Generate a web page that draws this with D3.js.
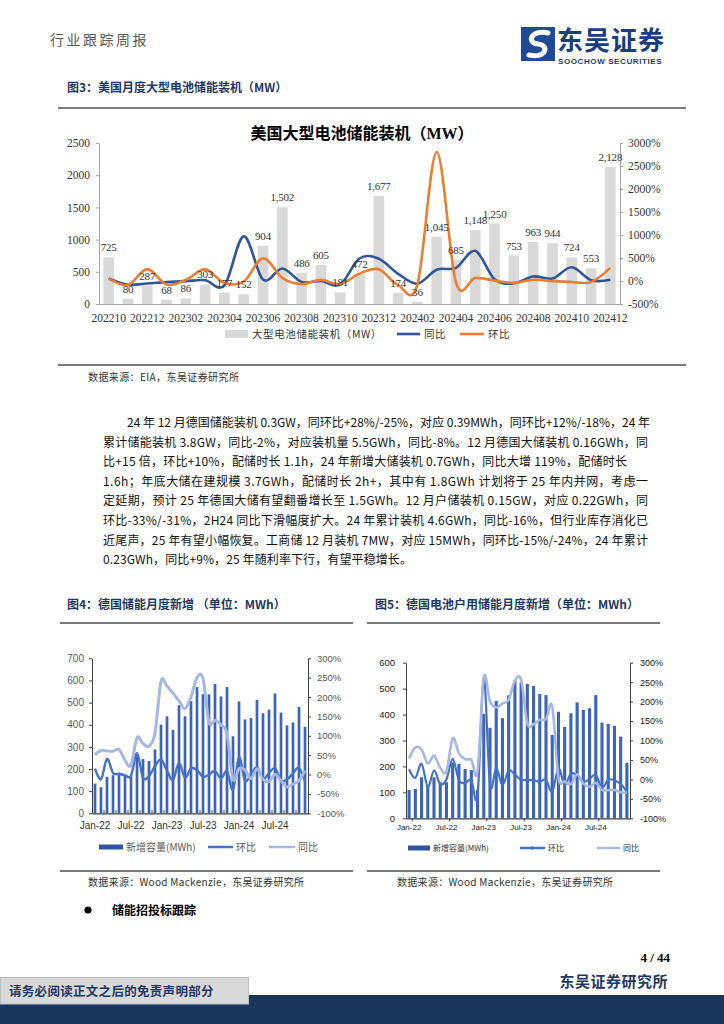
<!DOCTYPE html>
<html><head><meta charset="utf-8">
<script src="https://cdn.jsdelivr.net/npm/d3@7"></script>
<style>
html,body{margin:0;padding:0;background:#fff;}
svg{display:block;}
</style></head><body>
<svg id="page" width="724" height="1024"></svg>
<script>
// ===== DATA =====
// Fig 3: US monthly large-scale battery storage installations (MW)
const usMonths = ["202210","202211","202212","202301","202302","202303","202304","202305","202306","202307","202308","202309","202310","202311","202312","202401","202402","202403","202404","202405","202406","202407","202408","202409","202410","202411","202412"];
const usInstalled = [725,80,287,68,86,303,177,152,904,1502,486,605,181,472,1677,174,36,1045,685,1148,1250,753,963,944,724,553,2128];
const usYoY = [55,-80,-53,-25,-3,18,-95,970,30,271,-20,0,-75,490,484,156,-58,245,287,655,38,-50,98,56,300,17,27];
const usMoM = [55,-89,259,-76,26,252,-42,-14,495,66,-68,24,-70,161,255,-90,-79,2803,-34,68,9,-40,28,-2,-23,-24,285];
const usLeftTicks = [0,500,1000,1500,2000,2500];
const usRightTicks = [-500,0,500,1000,1500,2000,2500,3000];

// Fig 4 / Fig 5: Germany monthly additions (MWh)
const deMonths = ["Jan-22","Feb-22","Mar-22","Apr-22","May-22","Jun-22","Jul-22","Aug-22","Sep-22","Oct-22","Nov-22","Dec-22",
  "Jan-23","Feb-23","Mar-23","Apr-23","May-23","Jun-23","Jul-23","Aug-23","Sep-23","Oct-23","Nov-23","Dec-23",
  "Jan-24","Feb-24","Mar-24","Apr-24","May-24","Jun-24","Jul-24","Aug-24","Sep-24","Oct-24","Nov-24","Dec-24"];
const deInstalled = [134,118,165,172,176,172,166,266,245,236,288,400,438,376,488,438,507,570,538,537,584,528,570,348,505,424,430,512,452,468,541,455,397,410,480,391];
const deMoM = [15,-12,40,4,2,-2,-3,55,-8,-4,22,39,10,-14,30,-8,16,12,-6,0,9,-10,8,-39,45,-16,1,19,-12,4,16,-16,-13,3,17,-19];
const deYoY = [51,62,61,60,65,37,24,95,80,73,107,240,228,210,190,170,200,250,248,135,140,128,105,-12,15,12,-10,15,-12,-18,0,-16,-32,-24,-16,10];
const deLeftTicks = [0,100,200,300,400,500,600,700];

const huInstalled = [109,113,158,128,158,139,139,215,210,190,186,110,402,349,452,386,474,531,524,518,510,479,475,321,411,353,405,447,418,424,475,369,364,356,315,214];
const huMoM = [26,4,40,-19,23,-12,0,53,-2,-9,-2,-41,262,-13,30,-15,23,12,-1,-1,-2,-6,-1,-32,28,-14,15,10,-6,1,12,-22,-1,-2,-12,-32];
const huYoY = [54,82,77,41,61,30,20,106,67,52,50,20,262,200,185,195,205,254,256,144,142,153,155,188,5,-5,-12,13,-11,-19,-9,-27,-28,-27,-33,-34];
const huLeftTicks = [0,100,200,300,400,500,600];
const pctTicks = [-100,-50,0,50,100,150,200,250,300];

// ===== STYLE =====
const CJK = "'Noto Sans CJK SC','Noto Sans CJK JP',sans-serif";
const SERIF = "'Liberation Serif','DejaVu Serif',serif";
const SANS = "'Liberation Sans',Arial,sans-serif";
const NAVY = "#1f3864";

const page = d3.select("#page");
page.append("rect").attr("width",724).attr("height",1024).attr("fill","#fff");

function txt(parent, x, y, s, o = {}) {
  const t = parent.append("text").attr("x", x).attr("y", y).text(s)
    .attr("font-family", o.family || CJK).attr("font-size", o.size || 12)
    .attr("fill", o.fill || "#000");
  if (o.weight) t.attr("font-weight", o.weight);
  if (o.anchor) t.attr("text-anchor", o.anchor);
  if (o.ls) t.attr("letter-spacing", o.ls);
  if (o.len) t.attr("textLength", o.len).attr("lengthAdjust", "spacing");
  return t;
}
function hline(x1, x2, y, c = "#4d4d4d", w = 1.5) {
  page.append("line").attr("x1", x1).attr("x2", x2).attr("y1", y).attr("y2", y)
    .attr("stroke", c).attr("stroke-width", w);
}
function styleAxis(g, family, size, fill, stroke) {
  g.attr("font-family", family).attr("font-size", size);
  g.selectAll("text").attr("fill", fill);
  g.selectAll("line,path").attr("stroke", stroke);
}

// ===== HEADER =====
txt(page, 50, 45, "行业跟踪周报", {size: 14, fill: "#595959", ls: 2.5});
page.append("rect").attr("x", 521).attr("y", 27).attr("width", 34).attr("height", 34).attr("fill", "#1e4a96");
page.append("path").attr("d", "M548,33 C531,29 526,43 538,44 C550,45 546,59 529,55")
  .attr("fill", "none").attr("stroke", "#fff").attr("stroke-width", 5).attr("stroke-linecap", "round");
txt(page, 557, 50, "东吴证券", {size: 26, weight: "bold", fill: "#1a3d7c", ls: 1});
txt(page, 558, 64, "SOOCHOW SECURITIES", {size: 8, weight: "bold", fill: "#1a3d7c", family: SANS, ls: 0.6});

// ===== FIG 3 =====
txt(page, 67, 92, "图3：美国月度大型电池储能装机（MW）", {size: 12, weight: "bold", fill: NAVY});
hline(58, 686, 108);

const m = page.append("g");
const xM = d3.scaleBand().domain(usMonths).range([99, 620]).paddingInner(0.45).paddingOuter(0.225);
const yL = d3.scaleLinear().domain([0, 2500]).range([304, 143]);
const yR = d3.scaleLinear().domain([-500, 3000]).range([304, 143]);

const title = m.append("text").attr("x", 362).attr("y", 139).attr("text-anchor", "middle")
  .attr("font-family", CJK).attr("font-size", 16).attr("font-weight", "bold").attr("fill", "#000");
title.append("tspan").text("美国大型电池储能装机（");
title.append("tspan").attr("font-family", SERIF).text("MW");
title.append("tspan").text("）");

m.selectAll("rect.bar").data(usInstalled).join("rect").attr("class", "bar")
  .attr("x", (d, i) => xM(usMonths[i])).attr("y", d => yL(d))
  .attr("width", xM.bandwidth()).attr("height", d => yL(0) - yL(d)).attr("fill", "#d9d9d9");

const axL = m.append("g").attr("transform", "translate(99,0)")
  .call(d3.axisLeft(yL).tickValues(usLeftTicks).tickSize(3).tickSizeOuter(0).tickPadding(6).tickFormat(d3.format("d")));
styleAxis(axL, SERIF, 11.5, "#333", "#a6a6a6");
const axR = m.append("g").attr("transform", "translate(620,0)")
  .call(d3.axisRight(yR).tickValues(usRightTicks).tickSize(3).tickSizeOuter(0).tickPadding(5).tickFormat(d => d + "%"));
styleAxis(axR, SERIF, 11.5, "#333", "#a6a6a6");
const axB = m.append("g").attr("transform", "translate(0,304)")
  .call(d3.axisBottom(xM).tickValues(usMonths.filter((d, i) => i % 2 === 0)).tickSize(0).tickSizeOuter(0).tickPadding(10));
styleAxis(axB, SERIF, 11.5, "#333", "#a6a6a6");

const lineM = d3.line().x((d, i) => xM(usMonths[i]) + xM.bandwidth() / 2).y(d => yR(d)).curve(d3.curveCardinal.tension(0));
m.append("path").attr("d", lineM(usYoY)).attr("fill", "none").attr("stroke", "#2f5597").attr("stroke-width", 2.6);
m.append("path").attr("d", lineM(usMoM)).attr("fill", "none").attr("stroke", "#ed7d31").attr("stroke-width", 2.6);

m.selectAll("text.lbl").data(usInstalled).join("text").attr("class", "lbl")
  .attr("x", (d, i) => xM(usMonths[i]) + xM.bandwidth() / 2).attr("y", d => yL(d) - 6)
  .attr("text-anchor", "middle").attr("font-family", SERIF).attr("font-size", 11).attr("fill", "#333")
  .attr("letter-spacing", -0.2)
  .text(d => d3.format(",")(d));

// legend
m.append("rect").attr("x", 225).attr("y", 330).attr("width", 23).attr("height", 8).attr("fill", "#d9d9d9");
txt(m, 252, 338, "大型电池储能装机（MW）", {size: 10.5, fill: "#333", ls: 0.6});
m.append("line").attr("x1", 397).attr("x2", 420).attr("y1", 334).attr("y2", 334).attr("stroke", "#2f5597").attr("stroke-width", 2.6);
txt(m, 424, 338, "同比", {size: 10.5, fill: "#333", ls: 0.6});
m.append("line").attr("x1", 460).attr("x2", 484).attr("y1", 334).attr("y2", 334).attr("stroke", "#ed7d31").attr("stroke-width", 2.6);
txt(m, 488, 338, "环比", {size: 10.5, fill: "#333", ls: 0.6});

hline(58, 686, 365);
txt(page, 88, 380.5, "数据来源：EIA，东吴证券研究所", {size: 10, fill: "#333", ls: 0.4});

// ===== PARAGRAPH =====
const para = [
  "24 年 12 月德国储能装机 0.3GW，同环比+28%/-25%，对应 0.39MWh，同环比+12%/-18%，24 年",
  "累计储能装机 3.8GW，同比-2%，对应装机量 5.5GWh，同比-8%。12 月德国大储装机 0.16GWh，同",
  "比+15 倍，环比+10%，配储时长 1.1h，24 年新增大储装机 0.7GWh，同比大增 119%，配储时长",
  "1.6h；年底大储在建规模 3.7GWh，配储时长 2h+，其中有 1.8GWh 计划将于 25 年内并网，考虑一",
  "定延期，预计 25 年德国大储有望翻番增长至 1.5GWh。12 月户储装机 0.15GW，对应 0.22GWh，同",
  "环比-33%/-31%，2H24 同比下滑幅度扩大。24 年累计装机 4.6GWh，同比-16%，但行业库存消化已",
  "近尾声，25 年有望小幅恢复。工商储 12 月装机 7MW，对应 15MWh，同环比-15%/-24%，24 年累计",
  "0.23GWh，同比+9%，25 年随利率下行，有望平稳增长。"
];
const paraLen = [523, 545, 524, 545, 545, 545, 545, 309];
para.forEach((s, i) => {
  const x0 = i === 0 ? 127 : 103;
  txt(page, x0, 427 + 19.6 * i, s, {size: 12, fill: "#111", len: paraLen[i]});
});

// ===== SMALL CHARTS =====
function smallChart(o) {
  const g = page.append("g");
  const x = d3.scaleBand().domain(deMonths).range([o.x0, o.x1]).paddingInner(o.pad).paddingOuter(o.pad / 2);
  const yl = d3.scaleLinear().domain([0, o.leftMax]).range([o.y0, o.y1]);
  const yr = d3.scaleLinear().domain([-100, 300]).range([o.y0, o.y1]);
  g.selectAll("rect").data(o.bars).join("rect")
    .attr("x", (d, i) => x(deMonths[i])).attr("y", d => yl(d))
    .attr("width", x.bandwidth()).attr("height", d => o.y0 - yl(d)).attr("fill", o.barColor);
  const line = d3.line().x((d, i) => x(deMonths[i]) + x.bandwidth() / 2).y(d => yr(d)).curve(d3.curveCardinal.tension(0));
  g.append("path").attr("d", line(o.mom)).attr("fill", "none").attr("stroke", o.momColor).attr("stroke-width", o.momW);
  g.append("path").attr("d", line(o.yoy)).attr("fill", "none").attr("stroke", o.yoyColor).attr("stroke-width", o.yoyW);

  const al = g.append("g").attr("transform", `translate(${o.x0},0)`)
    .call(d3.axisLeft(yl).tickValues(o.leftTicks).tickSize(3).tickSizeOuter(0).tickPadding(o.lpad));
  styleAxis(al, SANS, o.lsize, o.tickFill, "#404040");
  const ar = g.append("g").attr("transform", `translate(${o.x1},0)`)
    .call(d3.axisRight(yr).tickValues(pctTicks).tickSize(3).tickSizeOuter(0).tickPadding(o.rpad).tickFormat(d => d + "%"));
  styleAxis(ar, SANS, o.rsize, o.tickFill, "#404040");
  const ab = g.append("g").attr("transform", `translate(0,${o.y0})`)
    .call(d3.axisBottom(x).tickValues(deMonths.filter((d, i) => i % 6 === 0)).tickSize(0).tickSizeOuter(0).tickPadding(o.bpad));
  styleAxis(ab, SANS, o.bsize, o.xFill, "#404040");
  ab.select(".domain").attr("stroke-width", 1.2);
  // category tick marks
  const gap = (x.step() - x.bandwidth()) / 2;
  deMonths.forEach((d, i) => {
    if (i > 0 && (i - o.tickOffset) % o.tickEvery === 0) {
      const xx = x(d) - gap;
      g.append("line").attr("x1", xx).attr("x2", xx).attr("y1", o.y0).attr("y2", o.y0 + o.tickDir * 3).attr("stroke", "#404040");
    }
  });
  // legend
  const ly = o.legY;
  g.append("rect").attr("x", o.leg[0]).attr("y", ly - 2.5).attr("width", o.leg[1] - o.leg[0]).attr("height", 5).attr("fill", o.legBar);
  txt(g, o.leg[1] + 3, ly + o.legSize * 0.37, "新增容量(MWh)", {size: o.legSize, fill: o.legFill});
  g.append("line").attr("x1", o.leg[2]).attr("x2", o.leg[3]).attr("y1", ly).attr("y2", ly).attr("stroke", o.momColor).attr("stroke-width", 2.5);
  if (o.marker) g.append("circle").attr("cx", (o.leg[2] + o.leg[3]) / 2).attr("cy", ly).attr("r", 1.8).attr("fill", o.momColor);
  txt(g, o.leg[3] + 3, ly + o.legSize * 0.37, "环比", {size: o.legSize, fill: o.legFill});
  g.append("line").attr("x1", o.leg[4]).attr("x2", o.leg[5]).attr("y1", ly).attr("y2", ly).attr("stroke", o.yoyColor).attr("stroke-width", 2.5);
  txt(g, o.leg[5] + 3, ly + o.legSize * 0.37, "同比", {size: o.legSize, fill: o.legFill});
}

// Fig 4
txt(page, 67, 609, "图4：德国储能月度新增 （单位：MWh）", {size: 12, weight: "bold", fill: NAVY});
hline(60, 353, 623);
smallChart({
  x0: 92, x1: 308, y0: 813.3, y1: 658.3, pad: 0.55, leftMax: 700, leftTicks: deLeftTicks,
  bars: deInstalled, mom: deMoM, yoy: deYoY,
  barColor: "#3c65b5", momColor: "#4472c4", yoyColor: "#a6b8e2", momW: 2.4, yoyW: 3,
  lpad: 5, rpad: 6, bpad: 9, lsize: 10, rsize: 9.5, bsize: 10, tickFill: "#595959", xFill: "#333",
  tickEvery: 2, tickOffset: 0, tickDir: -1,
  legY: 847, leg: [99, 123, 208, 233, 269, 295], legBar: "#2f559f", legSize: 10, legFill: "#595959", marker: false
});
hline(60, 353, 871);
txt(page, 88, 885.5, "数据来源：Wood Mackenzie，东吴证券研究所", {size: 10, fill: "#333", ls: 0.3});

// Fig 5
txt(page, 375, 609, "图5：德国电池户用储能月度新增（单位：MWh）", {size: 12, weight: "bold", fill: NAVY});
hline(367, 660, 623);
smallChart({
  x0: 406, x1: 630, y0: 818.3, y1: 662.7, pad: 0.5, leftMax: 600, leftTicks: huLeftTicks,
  bars: huInstalled, mom: huMoM, yoy: huYoY,
  barColor: "#3c65b5", momColor: "#4472c4", yoyColor: "#a6b8e2", momW: 2.2, yoyW: 2.6,
  lpad: 8, rpad: 7, bpad: 6.5, lsize: 9.5, rsize: 9, bsize: 8, tickFill: "#222", xFill: "#222",
  tickEvery: 6, tickOffset: 1, tickDir: 1,
  legY: 848, leg: [408, 430, 520, 545, 597, 620], legBar: "#2f559f", legSize: 8, legFill: "#333", marker: true
});
hline(367, 660, 871);
txt(page, 397, 885.5, "数据来源：Wood Mackenzie，东吴证券研究所", {size: 10, fill: "#333", ls: 0.3});

// bullet
page.append("circle").attr("cx", 88).attr("cy", 910).attr("r", 3.6).attr("fill", "#000");
txt(page, 112, 914.5, "储能招投标跟踪", {size: 12, weight: "bold", fill: "#000"});

// ===== FOOTER =====
txt(page, 670, 962, "4 / 44", {size: 13, weight: "bold", family: SERIF, anchor: "end", fill: "#000"});
txt(page, 668, 987, "东吴证券研究所", {size: 15, weight: "bold", fill: NAVY, anchor: "end", ls: 0.5});
page.append("rect").attr("x", 0).attr("y", 995).attr("width", 724).attr("height", 29).attr("fill", "#1b365d");
page.append("rect").attr("x", 0.5).attr("y", 977.5).attr("width", 248).attr("height", 26.5).attr("fill", "#d9d9d9").attr("stroke", "#bfbfbf");
txt(page, 9, 995.5, "请务必阅读正文之后的免责声明部分", {size: 12.5, weight: "bold", fill: NAVY, ls: 0.3});
</script>
</body></html>
